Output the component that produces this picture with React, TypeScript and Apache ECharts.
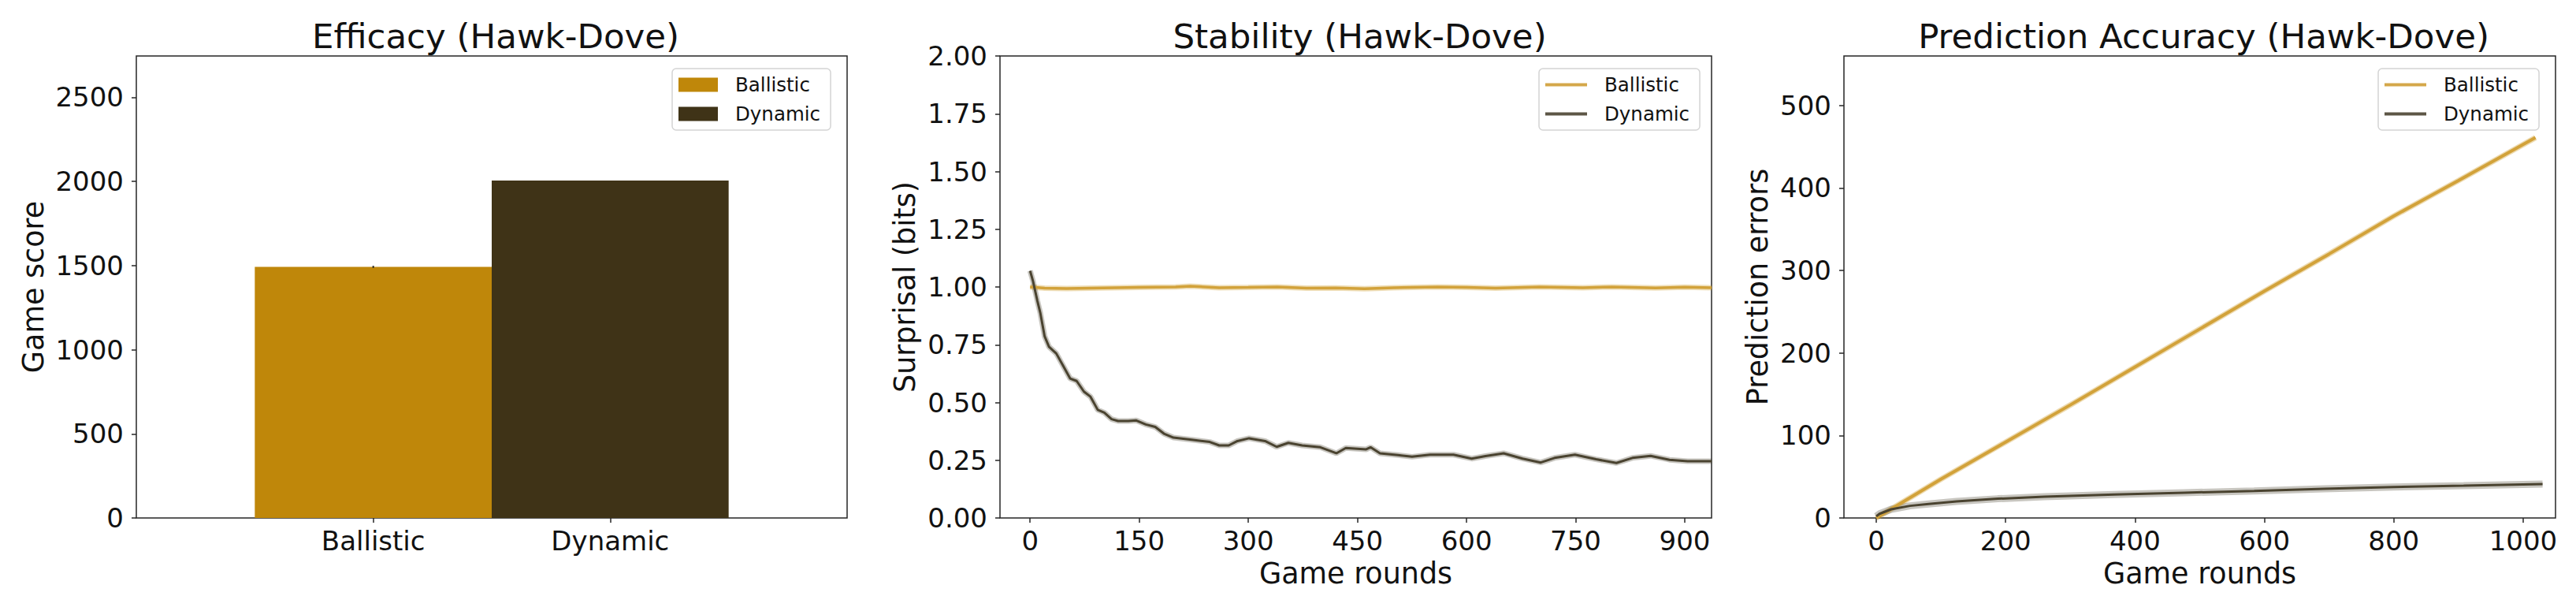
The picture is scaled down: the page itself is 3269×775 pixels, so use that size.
import React, { useEffect, useRef } from "react";
import * as echarts from "echarts";

// ---------- data ----------
const CATEGORIES = ["Ballistic", "Dynamic"];
const EFFICACY_SCORES = [1492, 2005];
const EFFICACY_ERRORS = [6, 0];
const EFFICACY_Y_TICKS = [0, 500, 1000, 1500, 2000, 2500];

const STAB_BALLISTIC_X = [0, 20, 50, 100, 150, 200, 220, 260, 300, 340, 380, 420, 460, 500, 560, 600, 640, 700, 760, 800, 860, 900, 937];
const STAB_BALLISTIC_Y = [1.0, 0.995, 0.993, 0.996, 0.998, 1.0, 1.003, 0.997, 0.998, 1.0, 0.995, 0.996, 0.992, 0.997, 1.0, 0.998, 0.995, 1.0, 0.997, 1.0, 0.996, 0.999, 0.997];
const STAB_DYNAMIC_X = [0, 4, 10, 14, 20, 26, 36, 45, 55, 64, 74, 83, 93, 102, 112, 121, 135, 146, 159, 172, 184, 197, 222, 247, 260, 273, 285, 301, 323, 339, 355, 374, 399, 421, 434, 462, 468, 481, 506, 525, 550, 582, 607, 626, 651, 677, 702, 721, 749, 778, 806, 828, 853, 879, 904, 937];
const STAB_DYNAMIC_Y = [1.07, 1.025, 0.94, 0.888, 0.786, 0.741, 0.712, 0.661, 0.604, 0.593, 0.547, 0.525, 0.468, 0.456, 0.428, 0.42, 0.42, 0.422, 0.405, 0.394, 0.365, 0.348, 0.339, 0.329, 0.314, 0.314, 0.333, 0.345, 0.333, 0.308, 0.325, 0.314, 0.306, 0.28, 0.303, 0.297, 0.306, 0.28, 0.272, 0.265, 0.274, 0.274, 0.257, 0.268, 0.28, 0.257, 0.24, 0.26, 0.274, 0.254, 0.238, 0.26, 0.269, 0.252, 0.246, 0.246];
const STAB_X_TICKS = [0, 150, 300, 450, 600, 750, 900];
const STAB_Y_TICKS = [0, 0.25, 0.5, 0.75, 1.0, 1.25, 1.5, 1.75, 2.0];

const ACC_BALLISTIC_X = [0, 100, 200, 300, 400, 500, 600, 700, 800, 900, 1019];
const ACC_BALLISTIC_Y = [0, 47, 92, 137, 183, 229, 275, 320, 366, 409, 461];
const ACC_DYNAMIC_X = [0, 5, 23, 52, 81, 124, 188, 260, 368, 476, 584, 692, 800, 908, 1030];
const ACC_DYNAMIC_Y = [2, 5, 10.5, 14.7, 17, 20, 23.3, 25.8, 28.4, 30.6, 32.8, 35.4, 37.6, 39.2, 41.1];
const ACC_X_TICKS = [0, 200, 400, 600, 800, 1000];
const ACC_Y_TICKS = [0, 100, 200, 300, 400, 500];

const SERIES_NAMES = ["Ballistic", "Dynamic"];
const TITLES = ["Efficacy (Hawk-Dove)", "Stability (Hawk-Dove)", "Prediction Accuracy (Hawk-Dove)"];

// ---------- style ----------
const FONT = "DejaVu Sans";
const TXT = "#111111";
const FRAME = "#262626";
const BAR_COLORS = ["#bf870a", "#3f3317"];
const LINE_COLORS = ["#d2a23a", "#4a4330"];
const LEGEND_LINE_COLORS = ["#d4a74a", "#5d5646"];
const BAR_WIDTH = 1;

const GRIDS = [
  { left: 173, top: 71, width: 902, height: 586 },
  { left: 1269, top: 71, width: 903, height: 586 },
  { left: 2340, top: 71, width: 903, height: 586 },
];

const zip = (xs: number[], ys: number[]) => xs.map((x, i) => [x, ys[i]]);

function buildOption(): any {
  const tickStyle = { show: true, inside: false, length: 6, lineStyle: { color: FRAME, width: 1.5 } };
  const labelStyle = { fontSize: 34, fontFamily: FONT, color: TXT };
  const nameStyle = { fontSize: 36.5, fontFamily: FONT, color: TXT };
  const plain = (v: number) => String(v);
  const noLine = { show: false, onZero: false };

  const xAxes = [
    {
      gridIndex: 0, type: "value", min: -1, max: 2,
      axisLine: noLine, splitLine: { show: false },
      axisTick: { ...tickStyle, customValues: [0, 1] },
      axisLabel: { ...labelStyle, margin: 12, customValues: [0, 1], formatter: (v: number) => CATEGORIES[Math.round(v)] ?? "" },
    },
    {
      gridIndex: 1, type: "value", min: -41.4, max: 936.8,
      axisLine: noLine, splitLine: { show: false },
      axisTick: { ...tickStyle, customValues: STAB_X_TICKS },
      axisLabel: { ...labelStyle, margin: 12, customValues: STAB_X_TICKS, formatter: plain },
      name: "Game rounds", nameLocation: "middle", nameGap: 52, nameTextStyle: nameStyle,
    },
    {
      gridIndex: 2, type: "value", min: -50, max: 1050,
      axisLine: noLine, splitLine: { show: false },
      axisTick: { ...tickStyle, customValues: ACC_X_TICKS },
      axisLabel: { ...labelStyle, margin: 12, customValues: ACC_X_TICKS, formatter: plain },
      name: "Game rounds", nameLocation: "middle", nameGap: 52, nameTextStyle: nameStyle,
    },
  ];

  const yAxes = [
    {
      gridIndex: 0, type: "value", min: 0, max: 2745,
      axisLine: noLine, splitLine: { show: false },
      axisTick: { ...tickStyle, customValues: EFFICACY_Y_TICKS },
      axisLabel: { ...labelStyle, margin: 16, customValues: EFFICACY_Y_TICKS, formatter: plain },
      name: "Game score", nameLocation: "middle", nameGap: 112, nameTextStyle: nameStyle,
    },
    {
      gridIndex: 1, type: "value", min: 0, max: 2,
      axisLine: noLine, splitLine: { show: false },
      axisTick: { ...tickStyle, customValues: STAB_Y_TICKS },
      axisLabel: { ...labelStyle, margin: 16, customValues: STAB_Y_TICKS, formatter: (v: number) => v.toFixed(2) },
      name: "Surprisal (bits)", nameLocation: "middle", nameGap: 102, nameTextStyle: nameStyle,
    },
    {
      gridIndex: 2, type: "value", min: 0, max: 560,
      axisLine: noLine, splitLine: { show: false },
      axisTick: { ...tickStyle, customValues: ACC_Y_TICKS },
      axisLabel: { ...labelStyle, margin: 16, customValues: ACC_Y_TICKS, formatter: plain },
      name: "Prediction errors", nameLocation: "middle", nameGap: 91, nameTextStyle: nameStyle,
    },
  ];

  const series: any[] = [];

  // Bars (panel 1)
  CATEGORIES.forEach((cat, i) => {
    series.push({
      type: "custom",
      name: SERIES_NAMES[i] + "#eff",
      xAxisIndex: 0, yAxisIndex: 0,
      data: [[i, EFFICACY_SCORES[i]]],
      itemStyle: { color: BAR_COLORS[i] },
      renderItem: (params: any, api: any) => {
        const x = api.value(0);
        const y = api.value(1);
        const p0 = api.coord([x - BAR_WIDTH / 2, y]);
        const p1 = api.coord([x + BAR_WIDTH / 2, 0]);
        return {
          type: "rect",
          shape: { x: p0[0], y: p0[1], width: p1[0] - p0[0], height: p1[1] - p0[1] },
          style: { fill: BAR_COLORS[i] },
        };
      },
    });
  });
  // Error bars
  series.push({
    type: "custom",
    name: "err",
    xAxisIndex: 0, yAxisIndex: 0,
    data: CATEGORIES.map((_, i) => [i, EFFICACY_SCORES[i], EFFICACY_ERRORS[i]]),
    z: 5,
    renderItem: (params: any, api: any) => {
      const x = api.value(0), y = api.value(1), e = api.value(2);
      if (!e) return null;
      const a = api.coord([x, y - e]);
      const b = api.coord([x, y + e]);
      return { type: "line", shape: { x1: a[0], y1: a[1], x2: b[0], y2: b[1] }, style: { stroke: "#222", lineWidth: 2 } };
    },
  });

  const addLine = (name: string, gi: number, xs: number[], ys: number[], color: string, width: number, band: number, bandOpacity: number) => {
    series.push({
      type: "line", name: name + "-band", xAxisIndex: gi, yAxisIndex: gi,
      data: zip(xs, ys), symbol: "none", clip: true, silent: true,
      lineStyle: { color, width: band, opacity: bandOpacity }, z: 1,
    });
    series.push({
      type: "line", name, xAxisIndex: gi, yAxisIndex: gi,
      data: zip(xs, ys), symbol: "none", clip: true,
      itemStyle: { color }, lineStyle: { color, width }, z: 2,
    });
  };

  addLine(SERIES_NAMES[0] + "#stab", 1, STAB_BALLISTIC_X, STAB_BALLISTIC_Y, LINE_COLORS[0], 3.5, 7, 0.35);
  addLine(SERIES_NAMES[1] + "#stab", 1, STAB_DYNAMIC_X, STAB_DYNAMIC_Y, LINE_COLORS[1], 3, 7, 0.3);
  addLine(SERIES_NAMES[0] + "#acc", 2, ACC_BALLISTIC_X, ACC_BALLISTIC_Y, LINE_COLORS[0], 4, 7, 0.4);
  addLine(SERIES_NAMES[1] + "#acc", 2, ACC_DYNAMIC_X, ACC_DYNAMIC_Y, LINE_COLORS[1], 3, 9, 0.3);

  const legendBase = {
    orient: "vertical",
    top: 87,
    backgroundColor: "rgba(255,255,255,0.8)",
    borderColor: "#d4d4d4",
    borderWidth: 1.5,
    borderRadius: 5,
    padding: [8, 13, 8, 8],
    itemGap: 12,
    selectedMode: false,
    textStyle: { fontSize: 24.5, fontFamily: FONT, color: TXT, padding: [0, 0, 0, 17] },
    formatter: (name: string) => name.split("#")[0],
  };

  const legends = [
    {
      ...legendBase, left: 853, itemWidth: 50, itemHeight: 18,
      data: SERIES_NAMES.map((n, i) => ({ name: n + "#eff", icon: "rect", itemStyle: { color: BAR_COLORS[i] } })),
    },
    {
      ...legendBase, left: 1953, itemWidth: 53, itemHeight: 4,
      data: SERIES_NAMES.map((n, i) => ({ name: n + "#stab", icon: "rect", itemStyle: { color: LEGEND_LINE_COLORS[i] } })),
    },
    {
      ...legendBase, left: 3018, itemWidth: 53, itemHeight: 4,
      data: SERIES_NAMES.map((n, i) => ({ name: n + "#acc", icon: "rect", itemStyle: { color: LEGEND_LINE_COLORS[i] } })),
    },
  ];

  const titles = TITLES.map((t, i) => ({
    text: t,
    left: GRIDS[i].left + GRIDS[i].width / 2,
    top: 19,
    textAlign: "center",
    textStyle: { fontSize: 43.5, fontWeight: "normal", fontFamily: FONT, color: TXT },
  }));

  return {
    animation: false,
    backgroundColor: "#ffffff",
    textStyle: { fontFamily: FONT },
    title: titles,
    legend: legends,
    grid: GRIDS.map((g) => ({ ...g, show: true, borderColor: FRAME, borderWidth: 1.5, backgroundColor: "transparent", containLabel: false })),
    xAxis: xAxes,
    yAxis: yAxes,
    series,
  };
}

export default function App() {
  const ref = useRef<HTMLDivElement>(null);
  useEffect(() => {
    if (!ref.current) return;
    const chart = echarts.init(ref.current, undefined, { renderer: "svg" });
    chart.setOption(buildOption());
    return () => chart.dispose();
  }, []);
  return (
    <div
      ref={ref}
      style={{ position: "absolute", left: 0, top: 0, width: 3269, height: 775, background: "#fff" }}
    />
  );
}
